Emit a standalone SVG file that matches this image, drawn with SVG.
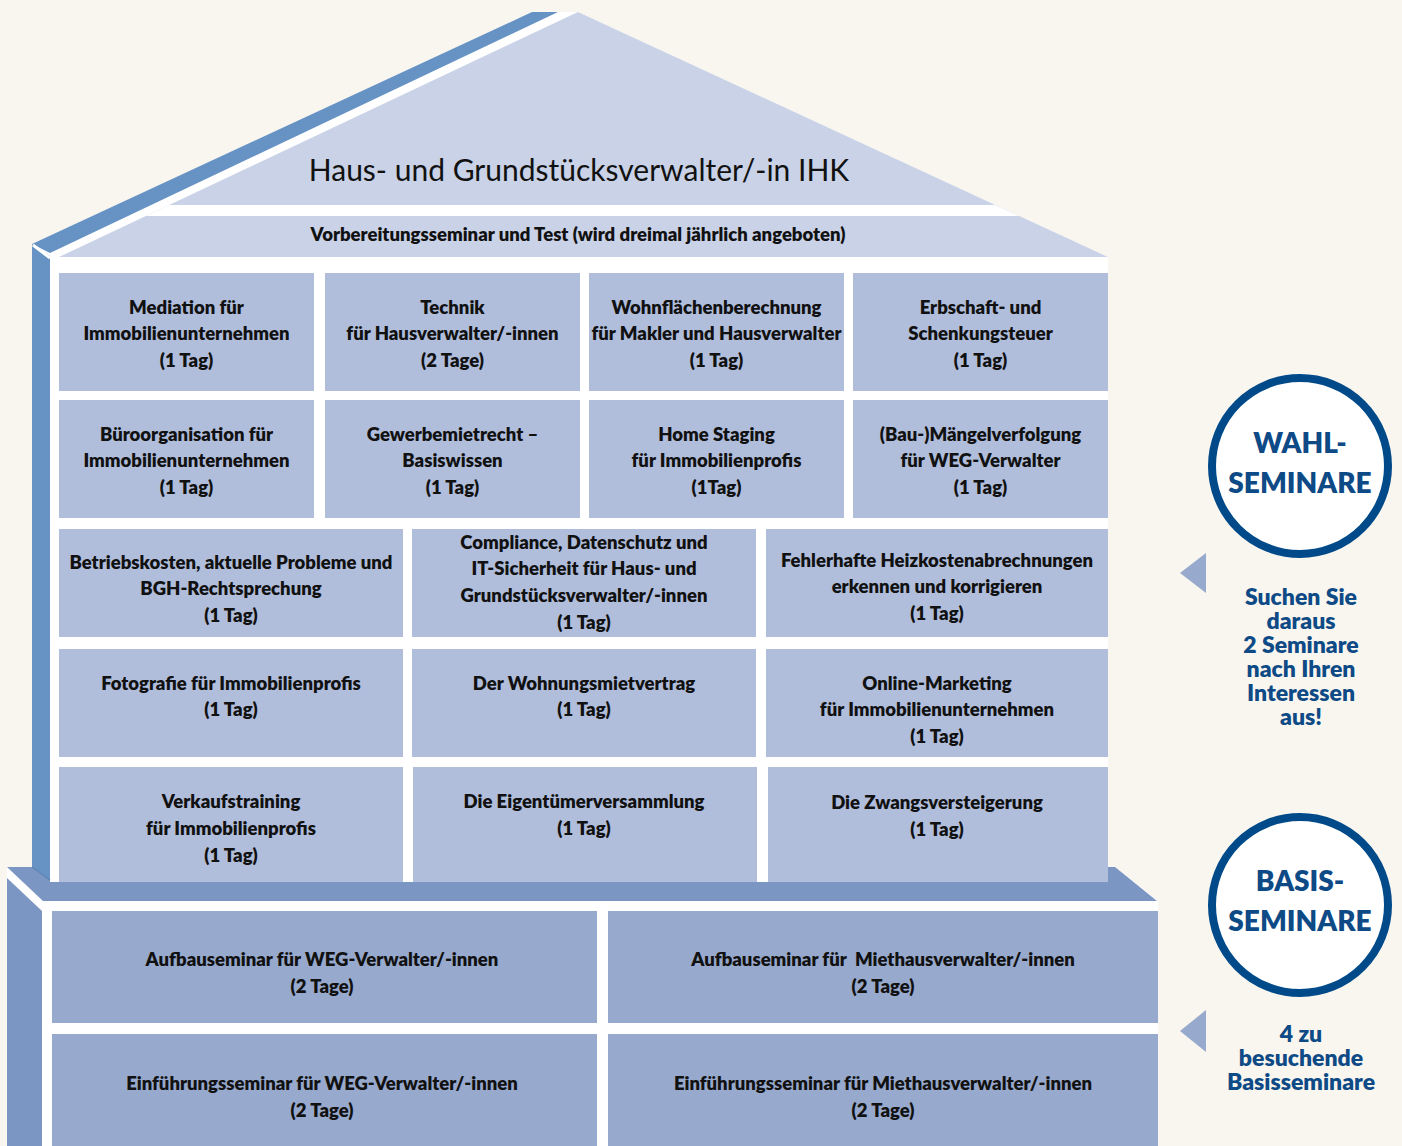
<svg xmlns="http://www.w3.org/2000/svg" width="1402" height="1146" viewBox="0 0 1402 1146">
<style>
.bg{fill:#f9f6ef}
.w{fill:#ffffff}
.light{fill:#c9d2e7}
.band{fill:#6793c4}
.base{fill:#7b96c2}
.box{fill:#b0bedc}
.bbox{fill:#97a9cd}
.t{font-family:Lato,"Liberation Sans",sans-serif;font-weight:800;font-size:18.5px;fill:#111;text-anchor:middle}
.title{font-family:Lato,"Liberation Sans",sans-serif;font-weight:400;font-size:30px;fill:#111;text-anchor:middle}
.sub{font-family:Lato,"Liberation Sans",sans-serif;font-weight:800;font-size:18.5px;fill:#111;text-anchor:middle}
.ring{fill:#ffffff;stroke:#004a8a;stroke-width:8}
.rt{font-family:Lato,"Liberation Sans",sans-serif;font-weight:800;font-size:28px;fill:#0d4a86;text-anchor:middle}
.st{font-family:Lato,"Liberation Sans",sans-serif;font-weight:800;font-size:23px;fill:#0d4a86;text-anchor:middle}
.tri{fill:#97a9cd}
</style>
<rect class="bg" x="0" y="0" width="1402" height="1146"/>

<g id="base">
  <polygon class="w" points="7,867 1115,867 1158,901 1158,1146 7,1146"/>
  <polygon class="base" points="7,867 1115,867 1157,901 43,901"/>
  <polygon class="base" points="7,878 42,911 42,1146 7,1146"/>
</g>

<g id="house">
  <polygon class="w" points="32,244 532,12 578,12 1108,257 1108,882 50,882 50,258"/>
  <polygon class="light" points="578,12 1108,257 59,257"/>
  <polygon class="w" points="169,205 995,205 1019,216 146,216"/>
  <polygon class="band" points="32,244 532,12 558,12 50,253"/>
  <polygon class="band" points="32,244 50,256 50,880 32,867"/>
  <line x1="33" y1="245" x2="50" y2="258" stroke="#ffffff" stroke-width="3"/>
  <line x1="32" y1="867" x2="50" y2="880" stroke="#5f86b8" stroke-width="1.5"/>
</g>

<g id="title">
  <text class="title" x="579" y="181">Haus- und Grundstücksverwalter/-in IHK</text>
</g>
<g id="prep">
  <text class="sub" x="578" y="241">Vorbereitungsseminar und Test (wird dreimal jährlich angeboten)</text>
</g>

<g id="r1c1"><rect class="box" x="59" y="273" width="255" height="118"/>
  <text class="t" x="186.5" y="314">Mediation für</text><text class="t" x="186.5" y="340">Immobilienunternehmen</text><text class="t" x="186.5" y="367">(1 Tag)</text></g>
<g id="r1c2"><rect class="box" x="325" y="273" width="255" height="118"/>
  <text class="t" x="452.5" y="314">Technik</text><text class="t" x="452.5" y="340">für Hausverwalter/-innen</text><text class="t" x="452.5" y="367">(2 Tage)</text></g>
<g id="r1c3"><rect class="box" x="589" y="273" width="255" height="118"/>
  <text class="t" x="716.5" y="314">Wohnflächenberechnung</text><text class="t" x="716.5" y="340">für Makler und Hausverwalter</text><text class="t" x="716.5" y="367">(1 Tag)</text></g>
<g id="r1c4"><rect class="box" x="853" y="273" width="255" height="118"/>
  <text class="t" x="980.5" y="314">Erbschaft- und</text><text class="t" x="980.5" y="340">Schenkungsteuer</text><text class="t" x="980.5" y="367">(1 Tag)</text></g>

<g id="r2c1"><rect class="box" x="59" y="400" width="255" height="118"/>
  <text class="t" x="186.5" y="441">Büroorganisation für</text><text class="t" x="186.5" y="467">Immobilienunternehmen</text><text class="t" x="186.5" y="494">(1 Tag)</text></g>
<g id="r2c2"><rect class="box" x="325" y="400" width="255" height="118"/>
  <text class="t" x="452.5" y="441">Gewerbemietrecht –</text><text class="t" x="452.5" y="467">Basiswissen</text><text class="t" x="452.5" y="494">(1 Tag)</text></g>
<g id="r2c3"><rect class="box" x="589" y="400" width="255" height="118"/>
  <text class="t" x="716.5" y="441">Home Staging</text><text class="t" x="716.5" y="467">für Immobilienprofis</text><text class="t" x="716.5" y="494">(1Tag)</text></g>
<g id="r2c4"><rect class="box" x="853" y="400" width="255" height="118"/>
  <text class="t" x="980.5" y="441">(Bau-)Mängelverfolgung</text><text class="t" x="980.5" y="467">für WEG-Verwalter</text><text class="t" x="980.5" y="494">(1 Tag)</text></g>

<g id="r3c1"><rect class="box" x="59" y="529" width="344" height="108"/>
  <text class="t" x="231" y="569">Betriebskosten, aktuelle Probleme und</text><text class="t" x="231" y="595">BGH-Rechtsprechung</text><text class="t" x="231" y="622">(1 Tag)</text></g>
<g id="r3c2"><rect class="box" x="412" y="529" width="344" height="108"/>
  <text class="t" x="584" y="549">Compliance, Datenschutz und</text><text class="t" x="584" y="575">IT-Sicherheit für Haus- und</text><text class="t" x="584" y="602">Grundstücksverwalter/-innen</text><text class="t" x="584" y="629">(1 Tag)</text></g>
<g id="r3c3"><rect class="box" x="766" y="529" width="342" height="108"/>
  <text class="t" x="937" y="567">Fehlerhafte Heizkostenabrechnungen</text><text class="t" x="937" y="593">erkennen und korrigieren</text><text class="t" x="937" y="620">(1 Tag)</text></g>

<g id="r4c1"><rect class="box" x="59" y="649" width="344" height="108"/>
  <text class="t" x="231" y="690">Fotografie für Immobilienprofis</text><text class="t" x="231" y="716">(1 Tag)</text></g>
<g id="r4c2"><rect class="box" x="412" y="649" width="344" height="108"/>
  <text class="t" x="584" y="690">Der Wohnungsmietvertrag</text><text class="t" x="584" y="716">(1 Tag)</text></g>
<g id="r4c3"><rect class="box" x="766" y="649" width="342" height="108"/>
  <text class="t" x="937" y="690">Online-Marketing</text><text class="t" x="937" y="716">für Immobilienunternehmen</text><text class="t" x="937" y="743">(1 Tag)</text></g>

<g id="r5c1"><rect class="box" x="59" y="767" width="344" height="115"/>
  <text class="t" x="231" y="808">Verkaufstraining</text><text class="t" x="231" y="835">für Immobilienprofis</text><text class="t" x="231" y="862">(1 Tag)</text></g>
<g id="r5c2"><rect class="box" x="413" y="767" width="344" height="115"/>
  <text class="t" x="584" y="808">Die Eigentümerversammlung</text><text class="t" x="584" y="835">(1 Tag)</text></g>
<g id="r5c3"><rect class="box" x="768" y="767" width="340" height="115"/>
  <text class="t" x="937" y="809">Die Zwangsversteigerung</text><text class="t" x="937" y="836">(1 Tag)</text></g>

<g id="b1"><rect class="bbox" x="52" y="911" width="545" height="112"/>
  <text class="t" x="322" y="966">Aufbauseminar für WEG-Verwalter/-innen</text><text class="t" x="322" y="993">(2 Tage)</text></g>
<g id="b2"><rect class="bbox" x="608" y="911" width="550" height="112"/>
  <text class="t" x="883" y="966" xml:space="preserve">Aufbauseminar für  Miethausverwalter/-innen</text><text class="t" x="883" y="993">(2 Tage)</text></g>
<g id="b3"><rect class="bbox" x="52" y="1034" width="545" height="112"/>
  <text class="t" x="322" y="1090">Einführungsseminar für WEG-Verwalter/-innen</text><text class="t" x="322" y="1117">(2 Tage)</text></g>
<g id="b4"><rect class="bbox" x="608" y="1034" width="550" height="112"/>
  <text class="t" x="883" y="1090">Einführungsseminar für Miethausverwalter/-innen</text><text class="t" x="883" y="1117">(2 Tage)</text></g>

<g id="wahl">
  <circle class="ring" cx="1300" cy="466" r="88"/>
  <text class="rt" x="1300" y="453">WAHL-</text>
  <text class="rt" x="1300" y="493">SEMINARE</text>
</g>
<g id="wahl-note">
  <polygon class="tri" points="1180,573 1206,553 1206,593"/>
  <text class="st" x="1301" y="605">Suchen Sie</text>
  <text class="st" x="1301" y="629">daraus</text>
  <text class="st" x="1301" y="653">2 Seminare</text>
  <text class="st" x="1301" y="677">nach Ihren</text>
  <text class="st" x="1301" y="701">Interessen</text>
  <text class="st" x="1301" y="725">aus!</text>
</g>
<g id="basis">
  <circle class="ring" cx="1300" cy="905" r="88"/>
  <text class="rt" x="1300" y="891">BASIS-</text>
  <text class="rt" x="1300" y="931">SEMINARE</text>
</g>
<g id="basis-note">
  <polygon class="tri" points="1180,1031 1206,1010 1206,1052"/>
  <text class="st" x="1301" y="1042">4 zu</text>
  <text class="st" x="1301" y="1066">besuchende</text>
  <text class="st" x="1301" y="1090">Basisseminare</text>
</g>
</svg>
